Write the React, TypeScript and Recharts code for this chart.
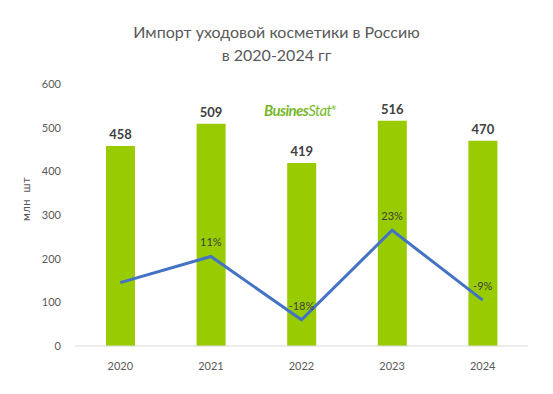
import React from "react";
import { ComposedChart, Bar, Line, XAxis, YAxis, LabelList } from "recharts";

const years = ["2020", "2021", "2022", "2023", "2024"];
const imports = [458, 509, 419, 516, 470];
const growth: (number | null)[] = [-1, 11, -18, 23, -9];
const growthLabels = ["", "11%", "-18%", "23%", "-9%"];
const yTicks = [0, 100, 200, 300, 400, 500, 600];

const data = years.map((y, i) => ({
  year: y,
  value: imports[i],
  growth: growth[i],
  gLabel: growthLabels[i],
}));

const FONT = "Lato, 'Open Sans', sans-serif";

export default function App() {
  return (
    <div style={{ position: "absolute", left: 0, top: 0, width: 553, height: 394, background: "#fff", fontFamily: FONT }}>
      <div
        style={{
          position: "absolute",
          left: 0,
          top: 20,
          width: 553,
          textAlign: "center",
          fontSize: 16,
          lineHeight: "23px",
          color: "#595959",
        }}
      >
        Импорт уходовой косметики в Россию
        <br />в 2020-2024 гг
      </div>
      <div
        style={{
          position: "absolute",
          left: 264,
          top: 101,
          fontSize: 15,
          fontWeight: 700,
          fontStyle: "italic",
          color: "#77b82a",
          letterSpacing: -0.6,
        }}
      >
        Busines<span style={{ fontWeight: 400 }}>Stat</span>
        <sup style={{ fontSize: 6 }}>®</sup>
      </div>
      <div
        style={{
          position: "absolute",
          left: 25,
          top: 199,
          transform: "translate(-50%, -50%) rotate(-90deg)",
          fontSize: 11,
          color: "#595959",
          whiteSpace: "pre",
          letterSpacing: 0.5,
        }}
      >
        {"млн  шт"}
      </div>
      <ComposedChart
        width={553}
        height={394}
        data={data}
        margin={{ top: 84, right: 25, bottom: 18, left: 30 }}
        style={{ position: "absolute", left: 0, top: 0 }}
      >
        <XAxis
          dataKey="year"
          axisLine={{ stroke: "#d9d9d9" }}
          tickLine={false}
          tick={{ fill: "#595959", fontSize: 11, fontFamily: FONT }}
          tickMargin={10}
          height={30}
        />
        <YAxis
          yAxisId="left"
          domain={[0, 600]}
          ticks={yTicks}
          axisLine={false}
          tickLine={false}
          tickSize={0}
          tickMargin={14}
          width={45}
          tick={{ fill: "#595959", fontSize: 11, fontFamily: FONT }}
        />
        <YAxis yAxisId="right" orientation="right" domain={[-30, 90]} hide />
        <Bar yAxisId="left" dataKey="value" fill="#99cc00" barSize={29} isAnimationActive={false}>
          <LabelList
            dataKey="value"
            position="top"
            offset={7}
            style={{ fill: "#404040", fontSize: 13, fontWeight: 700, fontFamily: FONT }}
          />
        </Bar>
        <Line
          yAxisId="right"
          dataKey="growth"
          stroke="#4472c4"
          strokeWidth={3}
          dot={false}
          isAnimationActive={false}
        >
          <LabelList
            dataKey="gLabel"
            position="top"
            offset={10}
            style={{ fill: "#404040", fontSize: 11, fontFamily: FONT }}
          />
        </Line>
      </ComposedChart>
    </div>
  );
}
